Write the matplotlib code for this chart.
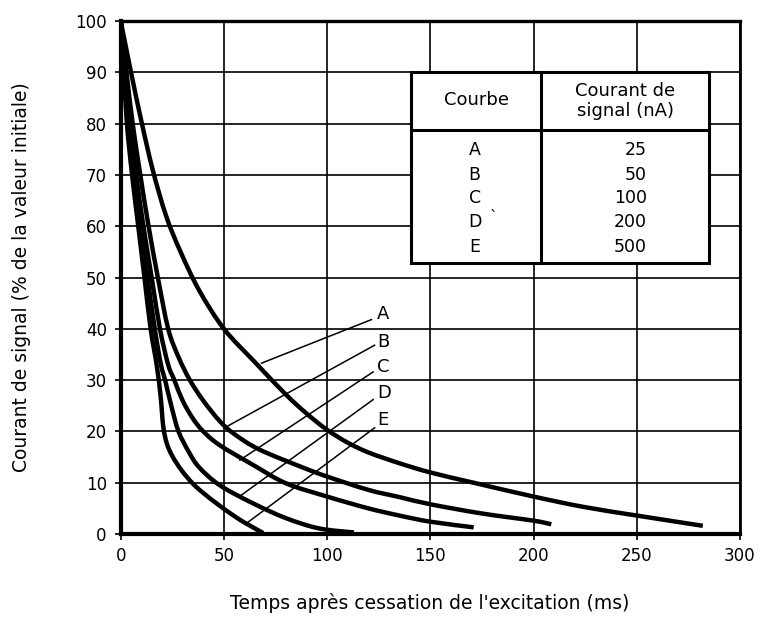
## DECAY OF SIGNAL CURRENT AFTER EXCITATION STOPS - CURVES A TO E

import matplotlib
matplotlib.use('Agg')
import numpy as np
import matplotlib.pyplot as plt
from matplotlib.patches import Rectangle, PathPatch
from matplotlib.path import Path

plt.rcParams['font.family'] = ['DejaVu Sans']

# Curves (time in ms, % of initial value)
curve_names = ['A', 'B', 'C', 'D', 'E']
currents_na = ['25', '50', '100', '200', '500']

a_t = [0, 5, 10, 15.5, 22, 29, 38, 50, 65, 80, 90, 100, 110, 120, 135, 150, 172, 200, 224, 250, 282]
a_v = [100, 90, 80.5, 71, 62, 55, 47.5, 40, 33.5, 27.2, 23.5, 20.3, 17.8, 15.9, 13.8, 12.0, 9.9, 7.3, 5.3, 3.6, 1.6]

b_t = [0, 2.8, 5.8, 9.5, 13.5, 18, 23, 28, 33.5, 40, 48, 55, 67, 88, 100, 120, 135, 150, 175, 200, 208.6]
b_v = [100, 90, 80, 70, 60, 50, 40, 34.5, 30, 26, 22, 19.5, 16.5, 13, 11.2, 8.6, 7.2, 5.8, 4, 2.6, 1.9]

c_t = [0, 2.3, 4.5, 7.5, 11, 15, 19, 23, 26, 30, 35, 40, 48, 64, 80, 100, 120, 135, 150, 171]
c_v = [100, 90, 80, 70, 60, 50, 40, 33, 30, 26, 22.5, 20, 17.3, 13.5, 9.9, 7.3, 5.0, 3.6, 2.4, 1.3]

d_t = [0, 2, 3.8, 6.3, 9.5, 13, 16.5, 19.5, 21.5, 24.5, 28, 33, 38, 48, 64, 80, 96, 113]
d_v = [100, 90, 80, 70, 60, 50, 40, 33, 30, 25, 20, 16, 13, 9.5, 6, 3.1, 1.1, 0.3]

e_t = [0, 1.5, 3, 5.5, 8.5, 11.5, 14.5, 17.4, 19.3, 20.6, 22.3, 25, 29.5, 35, 40, 47, 55, 61, 69]
e_v = [100, 90, 80, 70, 60, 50, 40, 33, 27, 21, 17.7, 15.2, 12.4, 9.8, 8.0, 5.8, 3.5, 2.0, 0.2]

curves = [(a_t, a_v), (b_t, b_v), (c_t, c_v), (d_t, d_v), (e_t, e_v)]

# leader lines: start on the curve, end next to the letter
leaders = [((68.2, 33.3), (121.5, 41.8)),
           ((52.1, 21.1), (123.0, 36.8)),
           ((57.7, 14.4), (122.3, 31.6)),
           ((58.5, 7.6), (122.3, 26.2)),
           ((61.0, 2.1), (123.0, 20.7))]
label_y = [42.8, 37.5, 32.5, 27.5, 22.3]


def smooth_path(t, v):
    # Catmull-Rom through the read points, drawn as cubic Bezier segments
    p = np.column_stack([t, v]).astype(float)
    ext = np.vstack([p[0], p, p[-1]])
    verts = [p[0]]
    codes = [Path.MOVETO]
    for i in range(len(p) - 1):
        p0, p1, p2, p3 = ext[i], ext[i + 1], ext[i + 2], ext[i + 3]
        verts += [p1 + (p2 - p0) / 6, p2 - (p3 - p1) / 6, p2]
        codes += [Path.CURVE4] * 3
    return Path(verts, codes)


fig = plt.figure(figsize=(7.62, 6.42), dpi=100)
ax = fig.add_axes([0.1584, 0.1682, 0.8127, 0.7991])

for t, v in curves:
    ax.add_patch(PathPatch(smooth_path(t, v), facecolor='none', edgecolor='black', lw=3.2,
                           capstyle='butt', joinstyle='round', zorder=4))

for (p0, p1), name, ly in zip(leaders, curve_names, label_y):
    ax.plot([p0[0], p1[0]], [p0[1], p1[1]], color='black', lw=1.1, zorder=3)
    ax.text(124.2, ly, name, fontsize=13, ha='left', va='center')

ax.set_xlim(0, 300)
ax.set_ylim(0, 100)
ax.set_xticks(range(0, 301, 50))
ax.set_yticks(range(0, 101, 10))
ax.tick_params(direction='out', length=4, width=1.2, labelsize=12, colors='black')
ax.tick_params(axis='y', pad=6)
ax.tick_params(axis='x', pad=5)
ax.grid(True, color='black', lw=1.2)
ax.set_axisbelow(True)

for side, lw in [('left', 3.0), ('bottom', 3.0), ('top', 2.4), ('right', 2.0)]:
    ax.spines[side].set_linewidth(lw)

# inset table
x0, x1, xm = 140.8, 285.2, 203.8
y0, y1, ym = 52.8, 90.0, 78.75
ax.add_patch(Rectangle((x0, y0), x1 - x0, y1 - y0, facecolor='white', edgecolor='black', lw=2.2, zorder=5))
ax.plot([x0, x1], [ym, ym], color='black', lw=2.2, zorder=6)
ax.plot([xm, xm], [y0, y1], color='black', lw=2.2, zorder=6)
ax.text((x0 + xm) / 2, 84.6, 'Courbe', fontsize=13, ha='center', va='center', zorder=7)
ax.text((xm + x1) / 2, 84.4, 'Courant de\nsignal (nA)', fontsize=13, ha='center', va='center',
        linespacing=1.2, zorder=7)
row_y = [74.9, 70.0, 65.4, 60.8, 55.9]
for name, cur, ry in zip(curve_names, currents_na, row_y):
    ax.text(171.5, ry, name, fontsize=12.5, ha='center', va='center', zorder=7)
    ax.text(255.0, ry, cur, fontsize=12.5, ha='right', va='center', zorder=7)
ax.text(180.5, 61.6, '`', fontsize=11, ha='center', va='center', zorder=7)

fig.text(430 / 762, 1 - 603 / 642, "Temps après cessation de l'excitation (ms)",
         fontsize=13.5, ha='center', va='center')
fig.text(22 / 762, 1 - 277 / 642, "Courant de signal (% de la valeur initiale)",
         fontsize=13.5, ha='center', va='center', rotation=90)

fig.savefig('out.png', dpi=100)
